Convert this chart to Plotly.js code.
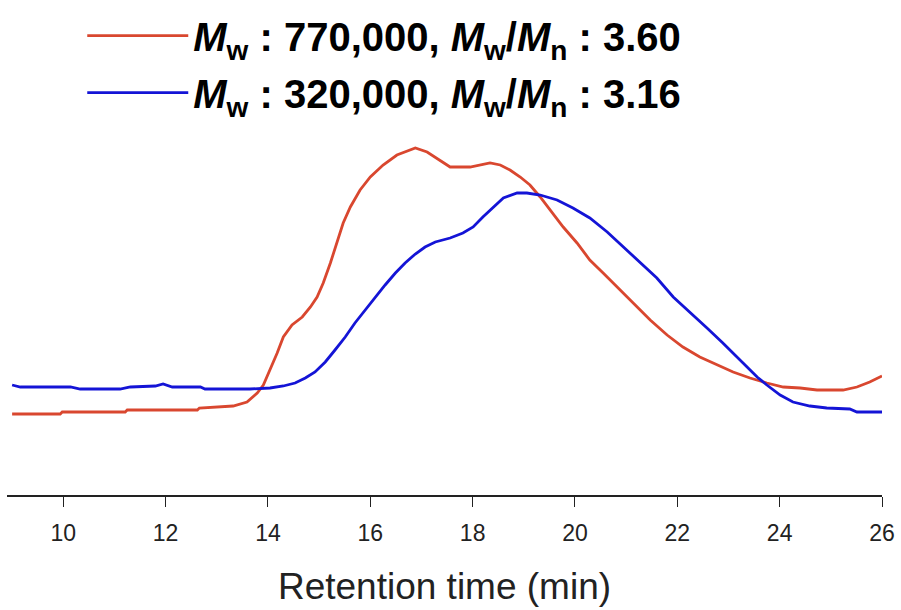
<!DOCTYPE html>
<html>
<head>
<meta charset="utf-8">
<script src="https://cdn.plot.ly/plotly-3.0.1.min.js"></script>
<style>html,body{margin:0;padding:0;background:#fff;}#chart{width:901px;height:610px;}</style>
</head>
<body>
<div id="chart"></div>
<script>
// Retention time (min) and detector signal (arbitrary units)
const timeHigh = [9.00, 9.94, 9.98, 11.21, 11.25, 12.62, 12.66, 13.32, 13.59, 13.79, 13.91, 14.04, 14.18, 14.30, 14.47, 14.67, 14.83, 14.96, 15.08, 15.22, 15.35, 15.47, 15.61, 15.80, 16.00, 16.25, 16.52, 16.88, 17.11, 17.36, 17.56, 17.95, 18.15, 18.34, 18.54, 18.73, 18.93, 19.12, 19.32, 19.51, 19.77, 20.04, 20.29, 20.55, 20.82, 21.08, 21.47, 21.80, 22.11, 22.44, 22.78, 23.09, 23.42, 23.75, 24.07, 24.40, 24.73, 25.24, 25.51, 25.76, 26.00];
const signalHigh = [81, 81, 83, 83, 85, 85, 87, 89, 93, 102, 110, 125, 142, 158, 170, 178, 188, 198, 212, 232, 252, 272, 288, 305, 318, 330, 340, 347, 343, 335, 328, 328, 330, 332, 330, 325, 318, 310, 298, 285, 268, 252, 235, 222, 208, 195, 175, 160, 148, 138, 130, 123, 117, 112, 108, 107, 105, 105, 108, 113, 119];

const timeLow = [9.00, 9.16, 10.14, 10.33, 11.11, 11.31, 11.80, 11.95, 12.13, 12.68, 12.77, 13.65, 14.04, 14.30, 14.53, 14.73, 14.92, 15.12, 15.31, 15.51, 15.70, 15.90, 16.09, 16.29, 16.49, 16.68, 16.88, 17.07, 17.27, 17.56, 17.81, 18.01, 18.20, 18.40, 18.60, 18.87, 19.06, 19.32, 19.65, 19.96, 20.29, 20.63, 20.94, 21.27, 21.60, 21.92, 22.25, 22.58, 22.89, 23.23, 23.56, 23.75, 24.01, 24.26, 24.59, 24.92, 25.37, 25.51, 26.00];
const signalLow = [110, 108, 108, 106, 106, 108, 109, 111, 108, 108, 106, 106, 107, 109, 112, 117, 123, 133, 145, 158, 172, 185, 198, 210, 222, 232, 241, 248, 253, 257, 262, 268, 278, 288, 297, 302, 302, 300, 295, 287, 277, 263, 248, 233, 217, 198, 182, 167, 152, 135, 118, 110, 100, 93, 89, 87, 86, 83, 83];

const nameHigh = '<b><i>M</i><sub>w</sub> : 770,000, <i>M</i><sub>w</sub>/<i>M</i><sub>n</sub> : 3.60</b>';
const nameLow = '<b><i>M</i><sub>w</sub> : 320,000, <i>M</i><sub>w</sub>/<i>M</i><sub>n</sub> : 3.16</b>';
const xTicks = [10, 12, 14, 16, 18, 20, 22, 24, 26];

const FONT = 'Arial, "Liberation Sans", Helvetica, sans-serif';

const traces = [
  {x: timeHigh, y: signalHigh, name: nameHigh, type: 'scatter', mode: 'lines',
   line: {color: '#d9472f', width: 2.8}, legend: 'legend'},
  {x: timeLow, y: signalLow, name: nameLow, type: 'scatter', mode: 'lines',
   line: {color: '#1414d6', width: 2.8}, legend: 'legend2'}
];

const legendCommon = {
  xanchor: 'left', yanchor: 'middle', bgcolor: 'rgba(0,0,0,0)', borderwidth: 0,
  font: {family: FONT, size: 40, color: '#000'}, itemwidth: 101
};

const layout = {
  width: 901, height: 610,
  margin: {l: 7, r: 19, t: 0, b: 115},
  paper_bgcolor: '#fff', plot_bgcolor: '#fff',
  showlegend: true,
  legend: Object.assign({x: 0.086, y: 0.928}, legendCommon),
  legend2: Object.assign({x: 0.086, y: 0.813}, legendCommon),
  xaxis: {
    range: [8.9, 26.0],
    tickvals: xTicks, ticktext: xTicks.map(String),
    ticks: 'outside', ticklen: 10, tickwidth: 1, tickcolor: '#222',
    showline: true, linecolor: '#222', linewidth: 1.5,
    showgrid: false, zeroline: false,
    ticklabelstandoff: 7,
    tickfont: {family: FONT, size: 23, color: '#222'},
    title: {text: 'Retention time (min)', font: {family: FONT, size: 37, color: '#222'}, standoff: 28},
    automargin: false
  },
  yaxis: {
    range: [0, 495], visible: false, showgrid: false, zeroline: false, fixedrange: true
  }
};

Plotly.newPlot('chart', traces, layout, {displayModeBar: false, staticPlot: true});
</script>
</body>
</html>
